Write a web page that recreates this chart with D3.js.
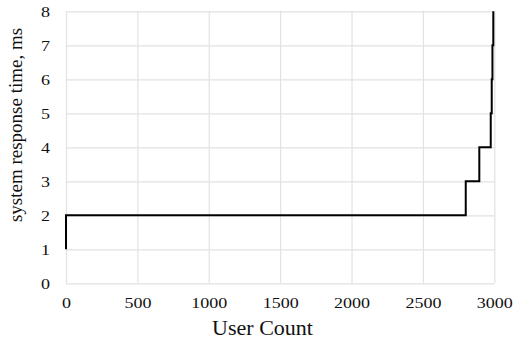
<!DOCTYPE html>
<html>
<head>
<meta charset="utf-8">
<script src="https://cdn.jsdelivr.net/npm/d3@7"></script>
<style>
  html, body { margin: 0; padding: 0; background: #fff; }
  svg { display: block; }
  text { font-family: "Liberation Serif", "Times New Roman", serif; fill: #111; }
</style>
</head>
<body>
<svg id="chart" width="517" height="343"></svg>
<script>
// Step points: user count where response time rises to the given level
const userCounts = [0, 0, 2800, 2895, 2975, 2982, 2987, 2993];
const responseTimes = [1, 2, 3, 4, 5, 6, 7, 8];
const xTicks = [0, 500, 1000, 1500, 2000, 2500, 3000];
const yTicks = [0, 1, 2, 3, 4, 5, 6, 7, 8];
const xTitle = "User Count";
const yTitle = "system response time, ms";

const svg = d3.select("#chart");
const margin = { left: 66, right: 517 - 494.3, top: 11.3, bottom: 343 - 283.3 };
const W = 517, H = 343;
const serif = "Liberation Serif, Times New Roman, serif";

const x = d3.scaleLinear().domain([0, 3000]).range([margin.left, W - margin.right]);
const y = d3.scaleLinear().domain([0, 8]).range([H - margin.bottom, margin.top]);

const grid = "#e2e2e2";

// vertical gridlines
svg.append("g")
  .attr("transform", `translate(0,${y(0)})`)
  .call(d3.axisBottom(x).tickValues(xTicks).tickSize(-(y(0) - y(8))).tickFormat(""))
  .call(g => g.select(".domain").remove())
  .call(g => g.selectAll("line").attr("stroke", grid).attr("stroke-width", 1.2));

// horizontal gridlines
svg.append("g")
  .attr("transform", `translate(${x(0)},0)`)
  .call(d3.axisLeft(y).tickValues(yTicks).tickSize(-(x(3000) - x(0))).tickFormat(""))
  .call(g => g.select(".domain").remove())
  .call(g => g.selectAll("line").attr("stroke", grid).attr("stroke-width", 1.2));

// x tick labels
svg.append("g")
  .attr("transform", `translate(0,${y(0)})`)
  .call(d3.axisBottom(x).tickValues(xTicks).tickSize(0).tickPadding(0).tickFormat(d3.format("d")))
  .attr("font-family", serif)
  .call(g => g.select(".domain").remove())
  .call(g => g.selectAll("text")
    .attr("y", 0)
    .attr("dy", 0)
    .attr("font-family", serif)
    .attr("font-size", 15)
    .attr("fill", "#111")
    .attr("transform", "translate(0,25) scale(1.2,1)"));

// y tick labels
svg.append("g")
  .attr("transform", `translate(${x(0)},0)`)
  .call(d3.axisLeft(y).tickValues(yTicks).tickSize(0).tickPadding(0).tickFormat(d3.format("d")))
  .attr("font-family", serif)
  .call(g => g.select(".domain").remove())
  .call(g => g.selectAll("text")
    .attr("x", 0)
    .attr("dy", "0.34em")
    .attr("font-family", serif)
    .attr("font-size", 15)
    .attr("fill", "#111")
    .attr("text-anchor", "end")
    .attr("transform", "translate(-16,0) scale(1.2,1)"));

// step line
const pts = userCounts.map((u, i) => [u, responseTimes[i]]);
const line = d3.line().x(d => x(d[0])).y(d => y(d[1])).curve(d3.curveStepAfter);
svg.append("path")
  .datum(pts)
  .attr("d", line)
  .attr("fill", "none")
  .attr("stroke", "#000")
  .attr("stroke-width", 2);

// axis titles
svg.append("text")
  .attr("transform", "translate(262.5,335) scale(1.1,1)")
  .attr("text-anchor", "middle")
  .attr("font-size", 20)
  .text(xTitle);

svg.append("text")
  .attr("transform", "translate(22,125) rotate(-90)")
  .attr("text-anchor", "middle")
  .attr("font-size", 19)
  .text(yTitle);
</script>
</body>
</html>
